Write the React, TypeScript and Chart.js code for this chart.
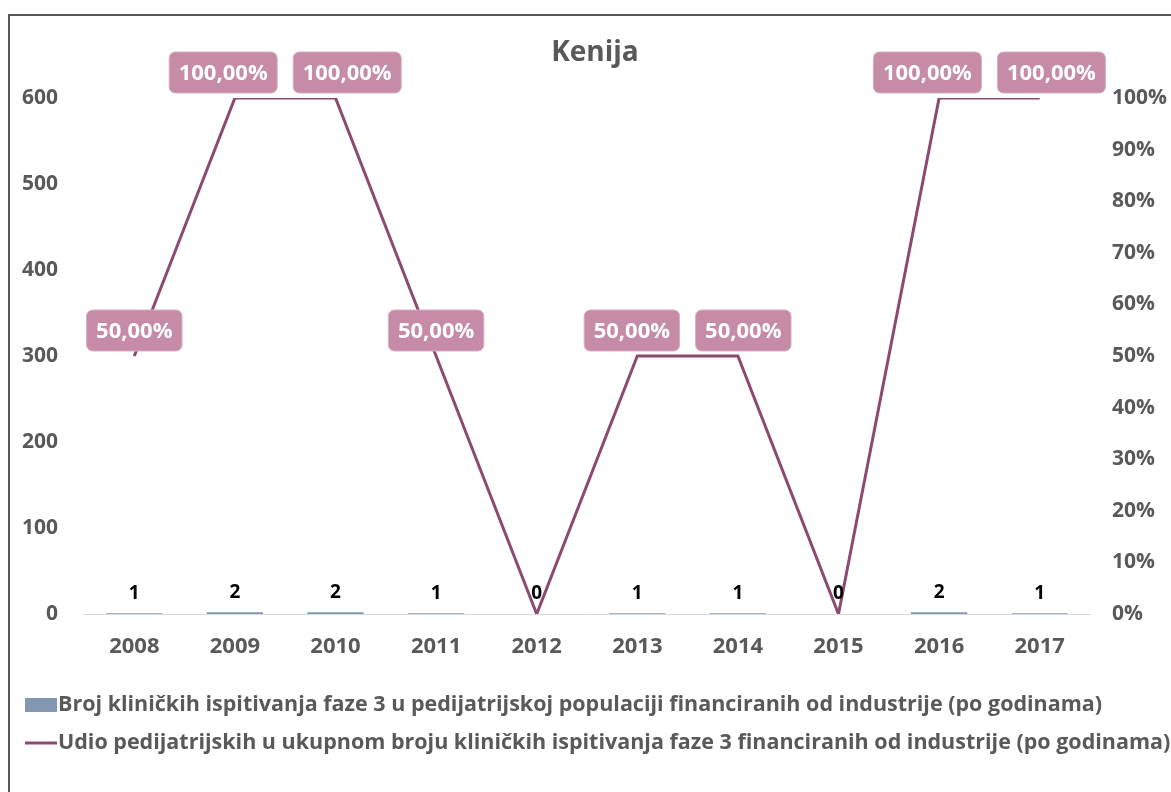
import React, { useEffect, useRef } from "react";
import { Chart, registerables } from "chart.js";

Chart.register(...registerables);

const years = ["2008", "2009", "2010", "2011", "2012", "2013", "2014", "2015", "2016", "2017"];
const trialCounts = [1, 2, 2, 1, 0, 1, 1, 0, 2, 1];
const pediatricShare = [0.5, 1, 1, 0.5, 0, 0.5, 0.5, 0, 1, 1];
const shareLabels = ["50,00%", "100,00%", "100,00%", "50,00%", "", "50,00%", "50,00%", "", "100,00%", "100,00%"];
const countAxisMax = 600;
const countAxisStep = 100;
const shareAxisMax = 1;
const shareAxisStep = 0.1;
const chartTitle = "Kenija";
const barSeriesName =
  "Broj kliničkih ispitivanja faze 3 u pedijatrijskoj populaciji financiranih od industrije (po godinama)";
const lineSeriesName =
  "Udio pedijatrijskih u ukupnom broju kliničkih ispitivanja faze 3 financiranih od industrije (po godinama)";

const FONT = "'Open Sans', Lato, sans-serif";
const GREY = "#595959";
const BAR_COLOR = "#8497b0";
const LINE_COLOR = "#8c4a6f";
const LABEL_BG = "#c58ba7";

const CANVAS_W = 1161;
const CANVAS_H = 776;

const decorPlugin = {
  id: "decor",
  afterDatasetsDraw(chart: any) {
    const ctx = chart.ctx as CanvasRenderingContext2D;
    ctx.save();
    // bar value labels
    const barMeta = chart.getDatasetMeta(0);
    ctx.font = `bold 19px ${FONT}`;
    ctx.fillStyle = "#000000";
    ctx.textAlign = "center";
    ctx.textBaseline = "middle";
    barMeta.data.forEach((el: any, i: number) => {
      ctx.fillText(String(trialCounts[i]), el.x, el.y - 20);
    });

    // line value labels with simple collision spreading
    const lineMeta = chart.getDatasetMeta(1);
    ctx.font = `bold 22px ${FONT}`;
    const boxH = 41;
    const gap = 16;
    const boxes = lineMeta.data.map((el: any, i: number) => {
      const text = shareLabels[i];
      const w = text ? ctx.measureText(text).width + 19 : 0;
      return { text, w, cx: el.x, y: el.y };
    });
    for (let i = 0; i < boxes.length - 1; i++) {
      const a = boxes[i];
      const b = boxes[i + 1];
      if (!a.text || !b.text || Math.abs(a.y - b.y) > 1) continue;
      const need = (a.w + b.w) / 2 + gap;
      const have = b.cx - a.cx;
      if (have < need) {
        const d = (need - have) / 2;
        a.cx -= d;
        b.cx += d;
      }
    }
    boxes.forEach((b: any) => {
      if (!b.text) return;
      const x = b.cx - b.w / 2;
      const y = b.y - 5 - boxH;
      ctx.beginPath();
      (ctx as any).roundRect(x, y, b.w, boxH, 6);
      ctx.fillStyle = LABEL_BG;
      ctx.fill();
      ctx.lineWidth = 1;
      ctx.strokeStyle = "#d6afc1";
      ctx.stroke();
      ctx.fillStyle = "#ffffff";
      ctx.textAlign = "center";
      ctx.textBaseline = "middle";
      ctx.fillText(b.text, b.cx, y + boxH / 2 + 1);
    });
    ctx.restore();
  },
  afterDraw(chart: any) {
    const ctx = chart.ctx as CanvasRenderingContext2D;
    ctx.save();
    // title
    ctx.font = `bold 28px ${FONT}`;
    ctx.fillStyle = GREY;
    ctx.textAlign = "center";
    ctx.textBaseline = "middle";
    ctx.fillText(chartTitle, 585, 37);

    // legend
    ctx.font = `bold 21.5px ${FONT}`;
    ctx.textAlign = "left";
    const row1 = 689;
    const row2 = 727;
    ctx.fillStyle = BAR_COLOR;
    ctx.fillRect(15, row1 - 7, 32, 14);
    ctx.fillStyle = GREY;
    ctx.fillText(barSeriesName, 48, row1);
    ctx.strokeStyle = LINE_COLOR;
    ctx.lineWidth = 3;
    ctx.beginPath();
    ctx.moveTo(15, row2);
    ctx.lineTo(47, row2);
    ctx.stroke();
    ctx.fillStyle = GREY;
    ctx.fillText(lineSeriesName, 48, row2);
    ctx.restore();
  },
};

export default function App() {
  const canvasRef = useRef<HTMLCanvasElement | null>(null);

  useEffect(() => {
    if (!canvasRef.current) return;
    const tickFont = { family: FONT, size: 21, weight: "bold" as const };
    const chart = new Chart(canvasRef.current, {
      type: "bar",
      data: {
        labels: years,
        datasets: [
          {
            type: "bar",
            label: barSeriesName,
            data: trialCounts,
            backgroundColor: BAR_COLOR,
            yAxisID: "y",
            barPercentage: 0.56,
            categoryPercentage: 1,
            order: 2,
          },
          {
            type: "line",
            label: lineSeriesName,
            data: pediatricShare,
            borderColor: LINE_COLOR,
            borderWidth: 3,
            pointRadius: 0,
            tension: 0,
            yAxisID: "y1",
            order: 1,
          } as any,
        ],
      },
      options: {
        responsive: false,
        animation: false,
        layout: { padding: { top: 82, left: 0, right: 0, bottom: 128 } },
        plugins: {
          legend: { display: false },
          title: { display: false },
          tooltip: { enabled: false },
        },
        scales: {
          x: {
            grid: { display: false, drawTicks: false },
            border: { display: true, color: "#d9d9d9", width: 1 },
            ticks: { font: { ...tickFont, size: 22 }, color: GREY, padding: 20 },
            afterFit: (s: any) => {
              s.height = 50;
            },
          },
          y: {
            position: "left",
            min: 0,
            max: countAxisMax,
            ticks: { stepSize: countAxisStep, font: tickFont, color: GREY, padding: 26 },
            grid: { display: false, drawTicks: false },
            border: { display: false },
            afterFit: (s: any) => {
              s.width = 74;
            },
          },
          y1: {
            position: "right",
            min: 0,
            max: shareAxisMax,
            ticks: {
              stepSize: shareAxisStep,
              font: tickFont,
              color: GREY,
              padding: 22,
              callback: (v: any) => Math.round(Number(v) * 100) + "%",
            },
            grid: { display: false, drawTicks: false },
            border: { display: false },
            afterFit: (s: any) => {
              s.width = 81;
            },
          },
        },
      },
      plugins: [decorPlugin],
    });
    return () => chart.destroy();
  }, []);

  return (
    <div
      style={{
        position: "absolute",
        left: 8,
        top: 14,
        width: CANVAS_W,
        height: CANVAS_H,
        borderLeft: "2px solid #595959",
        borderTop: "2px solid #595959",
        background: "#ffffff",
      }}
    >
      <canvas ref={canvasRef} width={CANVAS_W} height={CANVAS_H} style={{ display: "block" }} />
    </div>
  );
}
